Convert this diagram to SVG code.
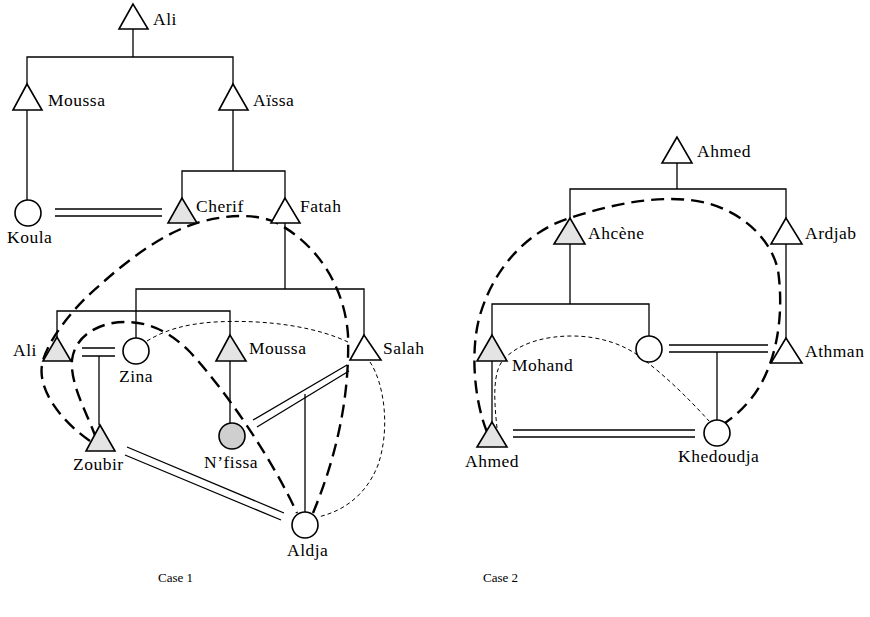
<svg xmlns="http://www.w3.org/2000/svg" width="870" height="617" viewBox="0 0 870 617">
<style>
.t{font-family:"Liberation Serif","DejaVu Serif",serif;font-size:17.5px;letter-spacing:0.5px;fill:#000}
.cap{font-family:"Liberation Serif","DejaVu Serif",serif;font-size:13px;fill:#000}
.n{fill:#fff;stroke:#000;stroke-width:1.6}
.s{fill:#e4e4e4;stroke:#000;stroke-width:1.6}
.d{fill:#cfcfcf;stroke:#000;stroke-width:1.6}
.l{fill:none;stroke:#000;stroke-width:1.3}
.bd{fill:none;stroke:#000;stroke-width:2.4;stroke-dasharray:13 7}
.td{fill:none;stroke:#000;stroke-width:1;stroke-dasharray:4 3}
</style>
<rect width="870" height="617" fill="#fff"/>
<g id="connectors">
<path class="l" d="M133,29 V57 M27,84 V57 H233 V84"/>
<path class="l" d="M27,110 V200"/>
<path class="l" d="M233,110 V171 M182,198 V171 H285 V198"/>
<path class="l" d="M55,209 H162 M55,216 H162"/>
<path class="l" d="M285,223 V289 M136,338 V289 H364 V335"/>
<path class="l" d="M57,337 V311 H230 V335"/>
<path class="l" d="M82,348 H115 M82,356 H115 M99,356 V425"/>
<path class="l" d="M230,361 V423"/>
<path class="l" d="M347,365 L253,420 M349,371 L257,427"/>
<path class="l" d="M305,394 V512"/>
<path class="l" d="M127,447 L284,513 M125,455 L281,520"/>
<path class="bd" d="M90,441 C60,420 38,390 42,365 C45,345 70,310 100,285 C130,258 165,232 200,222 C230,214 255,214 275,222 C320,245 345,290 348,335 C350,400 335,460 313,513"/>
<path class="bd" d="M96,438 C88,415 70,385 72,360 C75,335 100,322 125,322 C150,322 170,332 190,352 C225,390 270,455 297,513"/>
<path class="td" d="M147,341 C165,330 185,324 215,322 C270,319 320,328 350,343"/>
<path class="td" d="M370,362 C385,385 390,430 378,465 C365,498 340,512 318,517"/>
<path class="l" d="M677,163 V189 M570,218 V189 H786 V218"/>
<path class="l" d="M570,244 V304 M492,335 V304 H649 V336"/>
<path class="l" d="M786,244 V338"/>
<path class="l" d="M492,361 V422"/>
<path class="l" d="M669,345 H768 M669,352 H768 M717,352 V420"/>
<path class="l" d="M513,430 H695 M513,437 H695"/>
<path class="bd" d="M487,432 C474,400 470,350 480,315 C495,265 530,230 570,218 C610,205 650,196 690,200 C735,205 770,235 778,270 C785,320 775,370 750,400 C740,412 732,418 725,423"/>
<path class="td" d="M497,428 C494,400 492,370 505,358 C520,343 545,336 572,336 C600,336 625,345 640,357 C665,375 690,400 709,421"/>
</g>
<g id="c1-ali"><polygon class="n" points="133,4 119,29 148,29"/><text class="t" x="153" y="25">Ali</text></g>
<g id="c1-moussa"><polygon class="n" points="27,84 13,110 42,110"/><text class="t" x="48" y="106">Moussa</text></g>
<g id="c1-aissa"><polygon class="n" points="233,84 219,110 248,110"/><text class="t" x="253" y="106">Aïssa</text></g>
<g id="c1-koula"><circle class="n" cx="28" cy="213" r="13"/><text class="t" x="7" y="243">Koula</text></g>
<g id="c1-cherif"><polygon class="s" points="182,198 168,223 197,223"/><text class="t" x="196" y="212">Cherif</text></g>
<g id="c1-fatah"><polygon class="n" points="285,198 271,223 300,223"/><text class="t" x="300" y="212">Fatah</text></g>
<g id="c1-ali2"><polygon class="s" points="57,337 43,361 71,361"/><text class="t" x="13" y="356">Ali</text></g>
<g id="c1-zina"><circle class="n" cx="136" cy="351" r="13"/><text class="t" x="119" y="382">Zina</text></g>
<g id="c1-moussa2"><polygon class="s" points="230,335 216,361 246,361"/><text class="t" x="249" y="354">Moussa</text></g>
<g id="c1-salah"><polygon class="n" points="364,335 350,360 381,360"/><text class="t" x="383" y="354">Salah</text></g>
<g id="c1-zoubir"><polygon class="s" points="100,425 86,451 115,451"/><text class="t" x="73" y="470">Zoubir</text></g>
<g id="c1-nfissa"><circle class="d" cx="232" cy="436" r="13"/><text class="t" x="204" y="468">N’fissa</text></g>
<g id="c1-aldja"><circle class="n" cx="305" cy="525" r="13"/><text class="t" x="287" y="556">Aldja</text></g>
<g id="c2-ahmed"><polygon class="n" points="677,137 662,163 692,163"/><text class="t" x="697" y="157">Ahmed</text></g>
<g id="c2-ahcene"><polygon class="s" points="570,218 554,244 585,244"/><text class="t" x="588" y="239">Ahcène</text></g>
<g id="c2-ardjab"><polygon class="n" points="786,218 771,244 802,244"/><text class="t" x="805" y="239">Ardjab</text></g>
<g id="c2-mohand"><polygon class="s" points="492,335 477,361 507,361"/><text class="t" x="512" y="371">Mohand</text></g>
<g id="c2-wife"><circle class="n" cx="649" cy="349" r="13"/></g>
<g id="c2-athman"><polygon class="n" points="786,338 771,363 802,363"/><text class="t" x="805" y="357">Athman</text></g>
<g id="c2-ahmed2"><polygon class="s" points="492,422 477,447 507,447"/><text class="t" x="465" y="467">Ahmed</text></g>
<g id="c2-khedoudja"><circle class="n" cx="717" cy="433" r="13"/><text class="t" x="678" y="462">Khedoudja</text></g>
<g id="captions"><text class="cap" x="158" y="582">Case 1</text><text class="cap" x="483" y="582">Case 2</text></g>
</svg>
